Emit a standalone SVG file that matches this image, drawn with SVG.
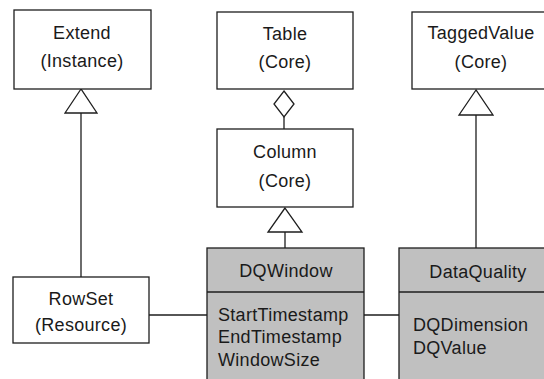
<svg xmlns="http://www.w3.org/2000/svg" width="544" height="379" viewBox="0 0 544 379">
  <style>
    .box { fill: #ffffff; stroke: #1e1e1e; stroke-width: 1.3; }
    .cls { fill: #c0c0c0; stroke: #1e1e1e; stroke-width: 1.3; }
    .ln { fill: none; stroke: #1e1e1e; stroke-width: 1.3; }
    .head { fill: #ffffff; stroke: #1e1e1e; stroke-width: 1.3; stroke-linejoin: miter; }
    text { font-family: "Liberation Sans", Arial, sans-serif; font-size: 18px; letter-spacing: 0.3px; fill: #1a1a1a; }
    .c { text-anchor: middle; }
  </style>
  <rect width="544" height="379" fill="#ffffff"/>

  <!-- connectors -->
  <g id="connectors">
    <!-- RowSet generalizes Extend -->
    <line class="ln" x1="81" y1="113" x2="81" y2="277"/>
    <polygon class="head" points="81,89 65,113 97,113"/>
    <!-- Table aggregates Column -->
    <line class="ln" x1="284" y1="117" x2="284" y2="129"/>
    <polygon class="head" points="284,91 294,104 284,117 274,104"/>
    <!-- DQWindow generalizes Column -->
    <line class="ln" x1="285" y1="232" x2="285" y2="248"/>
    <polygon class="head" points="285,208 268,232 302,232"/>
    <!-- DataQuality generalizes TaggedValue -->
    <line class="ln" x1="476" y1="115" x2="476" y2="248"/>
    <polygon class="head" points="476,90 459,115 493,115"/>
    <!-- associations -->
    <line class="ln" x1="149" y1="315" x2="207" y2="315"/>
    <line class="ln" x1="364" y1="315" x2="399" y2="315"/>
  </g>

  <g id="extend">
    <rect class="box" x="14" y="10" width="137" height="79"/>
    <text class="c" x="82" y="39">Extend</text>
    <text class="c" x="82" y="67">(Instance)</text>
  </g>

  <g id="table">
    <rect class="box" x="217" y="12" width="136" height="77"/>
    <text class="c" x="285" y="40">Table</text>
    <text class="c" x="285" y="68">(Core)</text>
  </g>

  <g id="tagged-value">
    <rect class="box" x="412" y="12" width="140" height="77"/>
    <text class="c" x="481" y="39">TaggedValue</text>
    <text class="c" x="481" y="68">(Core)</text>
  </g>

  <g id="column">
    <rect class="box" x="217" y="129" width="136" height="78"/>
    <text class="c" x="285" y="158">Column</text>
    <text class="c" x="285" y="187">(Core)</text>
  </g>

  <g id="rowset">
    <rect class="box" x="13" y="277" width="136" height="66"/>
    <text class="c" x="81" y="305">RowSet</text>
    <text class="c" x="81" y="331">(Resource)</text>
  </g>

  <g id="dqwindow">
    <rect class="cls" x="207" y="248" width="157" height="140"/>
    <line class="ln" x1="207" y1="292" x2="364" y2="292"/>
    <text class="c" x="286" y="277">DQWindow</text>
    <text x="218" y="321">StartTimestamp</text>
    <text x="218" y="343">EndTimestamp</text>
    <text x="218" y="366">WindowSize</text>
  </g>

  <g id="data-quality">
    <rect class="cls" x="399" y="248" width="155" height="140"/>
    <line class="ln" x1="399" y1="292" x2="554" y2="292"/>
    <text class="c" x="478" y="278">DataQuality</text>
    <text x="413" y="331">DQDimension</text>
    <text x="413" y="354">DQValue</text>
  </g>
</svg>
